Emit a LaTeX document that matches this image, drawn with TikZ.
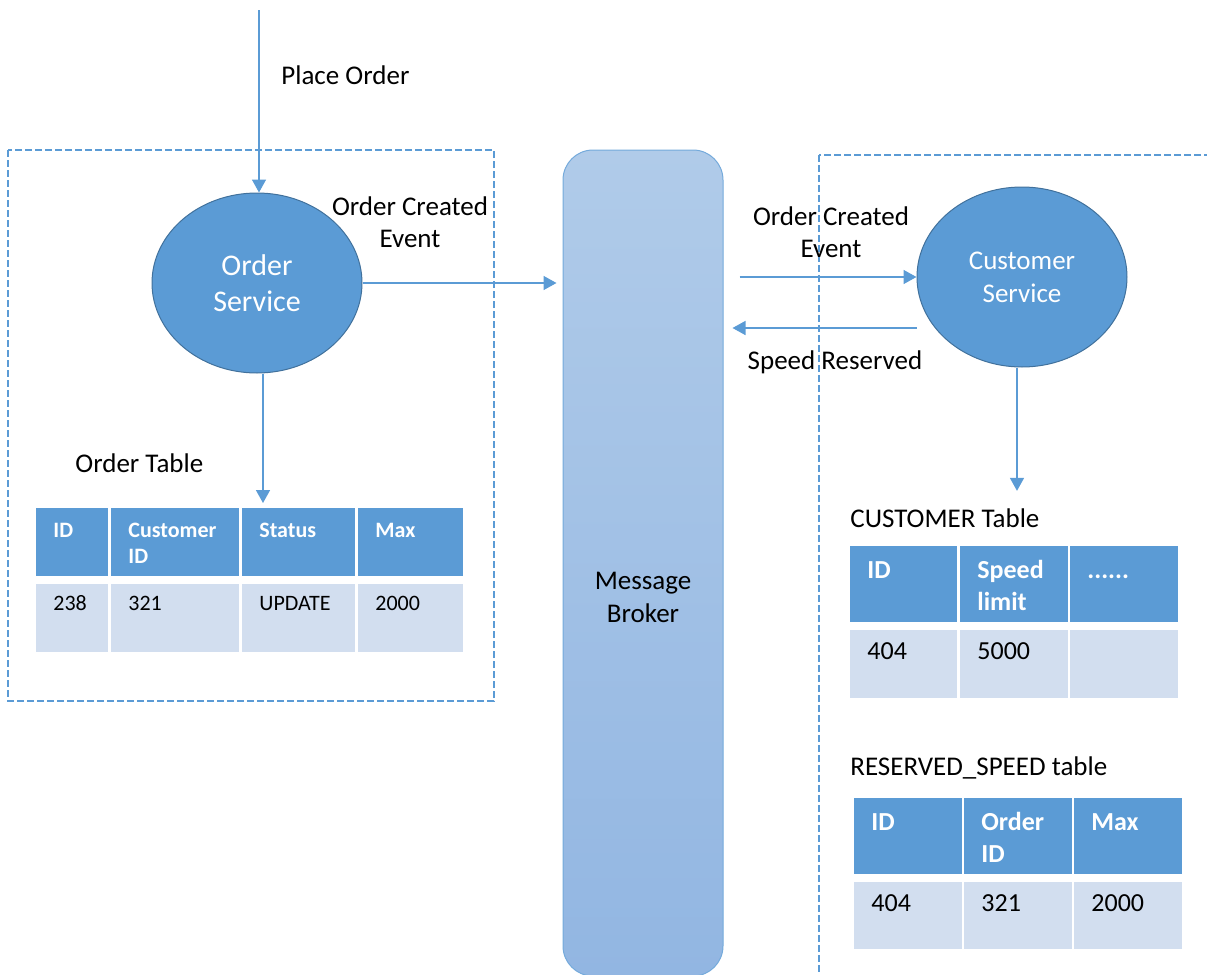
\documentclass[tikz,border=0pt]{standalone}
\usepackage{fontspec}
\setmainfont{Carlito}
\usetikzlibrary{shapes.geometric, arrows.meta, positioning}
\definecolor{msblue}{HTML}{5B9BD5}
\definecolor{msdark}{HTML}{41719C}
\definecolor{cellbg}{HTML}{D2DEEF}
\definecolor{brokertop}{HTML}{B0CBE9}
\definecolor{brokerbot}{HTML}{92B6E2}
\tikzset{
    service/.style={
        ellipse,
        draw=msdark,
        line width=0.5pt,
        fill=msblue,
        text=white,
        align=center,
        minimum width=105pt,
        minimum height=90pt
    },
    broker/.style={
        rectangle,
        rounded corners=15pt,
        draw=msblue!85,
        line width=0.5pt,
        top color=brokertop,
        bottom color=brokerbot,
        minimum width=80pt,
        minimum height=413pt
    },
    arrow/.style={
        -{Triangle[length=6.5pt,width=7pt]},
        draw=msblue,
        line width=0.75pt
    },
    boundary/.style={
        draw=msblue,
        line width=1pt,
        dash pattern=on 3.5pt off 1.5pt
    },
    caption/.style={
        font=\fontsize{13.5}{16}\selectfont,
        align=center,
        inner sep=0pt
    },
    cell/.style={
        anchor=north west,
        align=left,
        inner xsep=8.5pt,
        inner ysep=0pt
    },
    smallhead/.style={cell, fill=msblue, text=white, font=\fontsize{11}{13}\selectfont\bfseries,
        text height=14.5pt, text depth=19.5pt},
    smallbody/.style={cell, fill=cellbg, font=\fontsize{11}{13}\selectfont,
        text height=13pt, text depth=21pt},
    bighead/.style={cell, fill=msblue, text=white, font=\fontsize{13}{16}\selectfont\bfseries,
        text height=16pt, text depth=22pt},
    bigbody/.style={cell, fill=cellbg, font=\fontsize{13}{16}\selectfont,
        text height=14.5pt, text depth=19.5pt}
}
\begin{document}
\begin{tikzpicture}[x=0.5pt, y=-0.5pt]
    \useasboundingbox (0,0) rectangle (1207,975);

    % service boundaries
    \draw[boundary] (8,150) rectangle (494,701);
    \draw[boundary] (819,155) rectangle (1240,1010);

    % services and broker
    \node[service, font=\fontsize{15}{18}\selectfont] (osvc) at (257,283) {Order\\Service};
    \node[service, font=\fontsize{13.5}{16.5}\selectfont] (csvc) at (1022,277) {Customer\\Service};
    \node[broker] (broker) at (643,563) {};
    \node[caption, font=\fontsize{13.5}{16.5}\selectfont] (brokerlbl) at (643,597) {Message\\Broker};

    % labels
    \coordinate (entry) at (259,10);
    \node[caption, anchor=base west] (placelbl) at (281,84) {Place Order};
    \node[caption] (oevtlbl) at (410,222) {Order Created\\Event};
    \node[caption] (cevtlbl) at (831,232) {Order Created\\Event};
    \node[caption, anchor=base] (resvlbl) at (835,369) {Speed Reserved};
    \node[caption, anchor=base west] (otablbl) at (75,472) {Order Table};
    \node[caption, anchor=base west] (ctablbl) at (850,527) {CUSTOMER Table};
    \node[caption, anchor=base west] (rtablbl) at (850,775) {RESERVED\_SPEED table};

    % order table
    \node[smallhead, text width=19pt]   (oid)     at (36,508)  {ID};
    \node[smallhead, text width=47pt]   (ocust)   at (111,508) {Customer ID};
    \node[smallhead, text width=39.5pt] (ostatus) at (242,508) {Status};
    \node[smallhead, text width=35.5pt] (omax)    at (358,508) {Max};
    \node[smallbody, text width=19pt]   (oidv)     at (36,584)  {238};
    \node[smallbody, text width=47pt]   (ocustv)   at (111,584) {321};
    \node[smallbody, text width=39.5pt] (ostatusv) at (242,584) {UPDATE};
    \node[smallbody, text width=35.5pt] (omaxv)    at (358,584) {2000};

    % customer table
    \node[bighead, text width=36.5pt] (cid)    at (850,546)  {ID};
    \node[bighead, text width=37pt]   (cspeed) at (960,546)  {Speed limit};
    \node[bighead, text width=37pt]   (cmore)  at (1070,546) {......};
    \node[bigbody, text width=36.5pt] (cidv)    at (850,630)  {404};
    \node[bigbody, text width=37pt]   (cspeedv) at (960,630)  {5000};
    \node[bigbody, text width=37pt]   (cmorev)  at (1070,630) {};

    % reserved speed table
    \node[bighead, text width=37pt] (rid)    at (854,798)  {ID};
    \node[bighead, text width=37pt] (rorder) at (964,798)  {Order ID};
    \node[bighead, text width=37pt] (rmax)   at (1074,798) {Max};
    \node[bigbody, text width=37pt, text depth=19pt] (ridv)    at (854,882)  {404};
    \node[bigbody, text width=37pt, text depth=19pt] (rorderv) at (964,882)  {321};
    \node[bigbody, text width=37pt, text depth=19pt] (rmaxv)   at (1074,882) {2000};

    % connectors
    \draw[arrow] (entry) -- (entry |- osvc.north);
    \draw[arrow, shorten >=3pt] (osvc.east) -- (osvc.east -| broker.west);
    \draw[arrow, shorten <=8pt] (broker.east |- csvc.west) -- (csvc.west);
    \draw[arrow, shorten >=4.5pt] ([yshift=-25.5pt]csvc.west) -- ([yshift=-25.5pt]csvc.west -| broker.east);
    \draw[arrow, shorten >=2.5pt] ([xshift=3pt]osvc.south) -- ([xshift=3pt]osvc.south |- ostatus.north);
    \draw[arrow, shorten >=8.5pt] ([xshift=-2.5pt]csvc.south) -- ([xshift=-2.5pt]csvc.south |- ctablbl.north);
\end{tikzpicture}
\end{document}
